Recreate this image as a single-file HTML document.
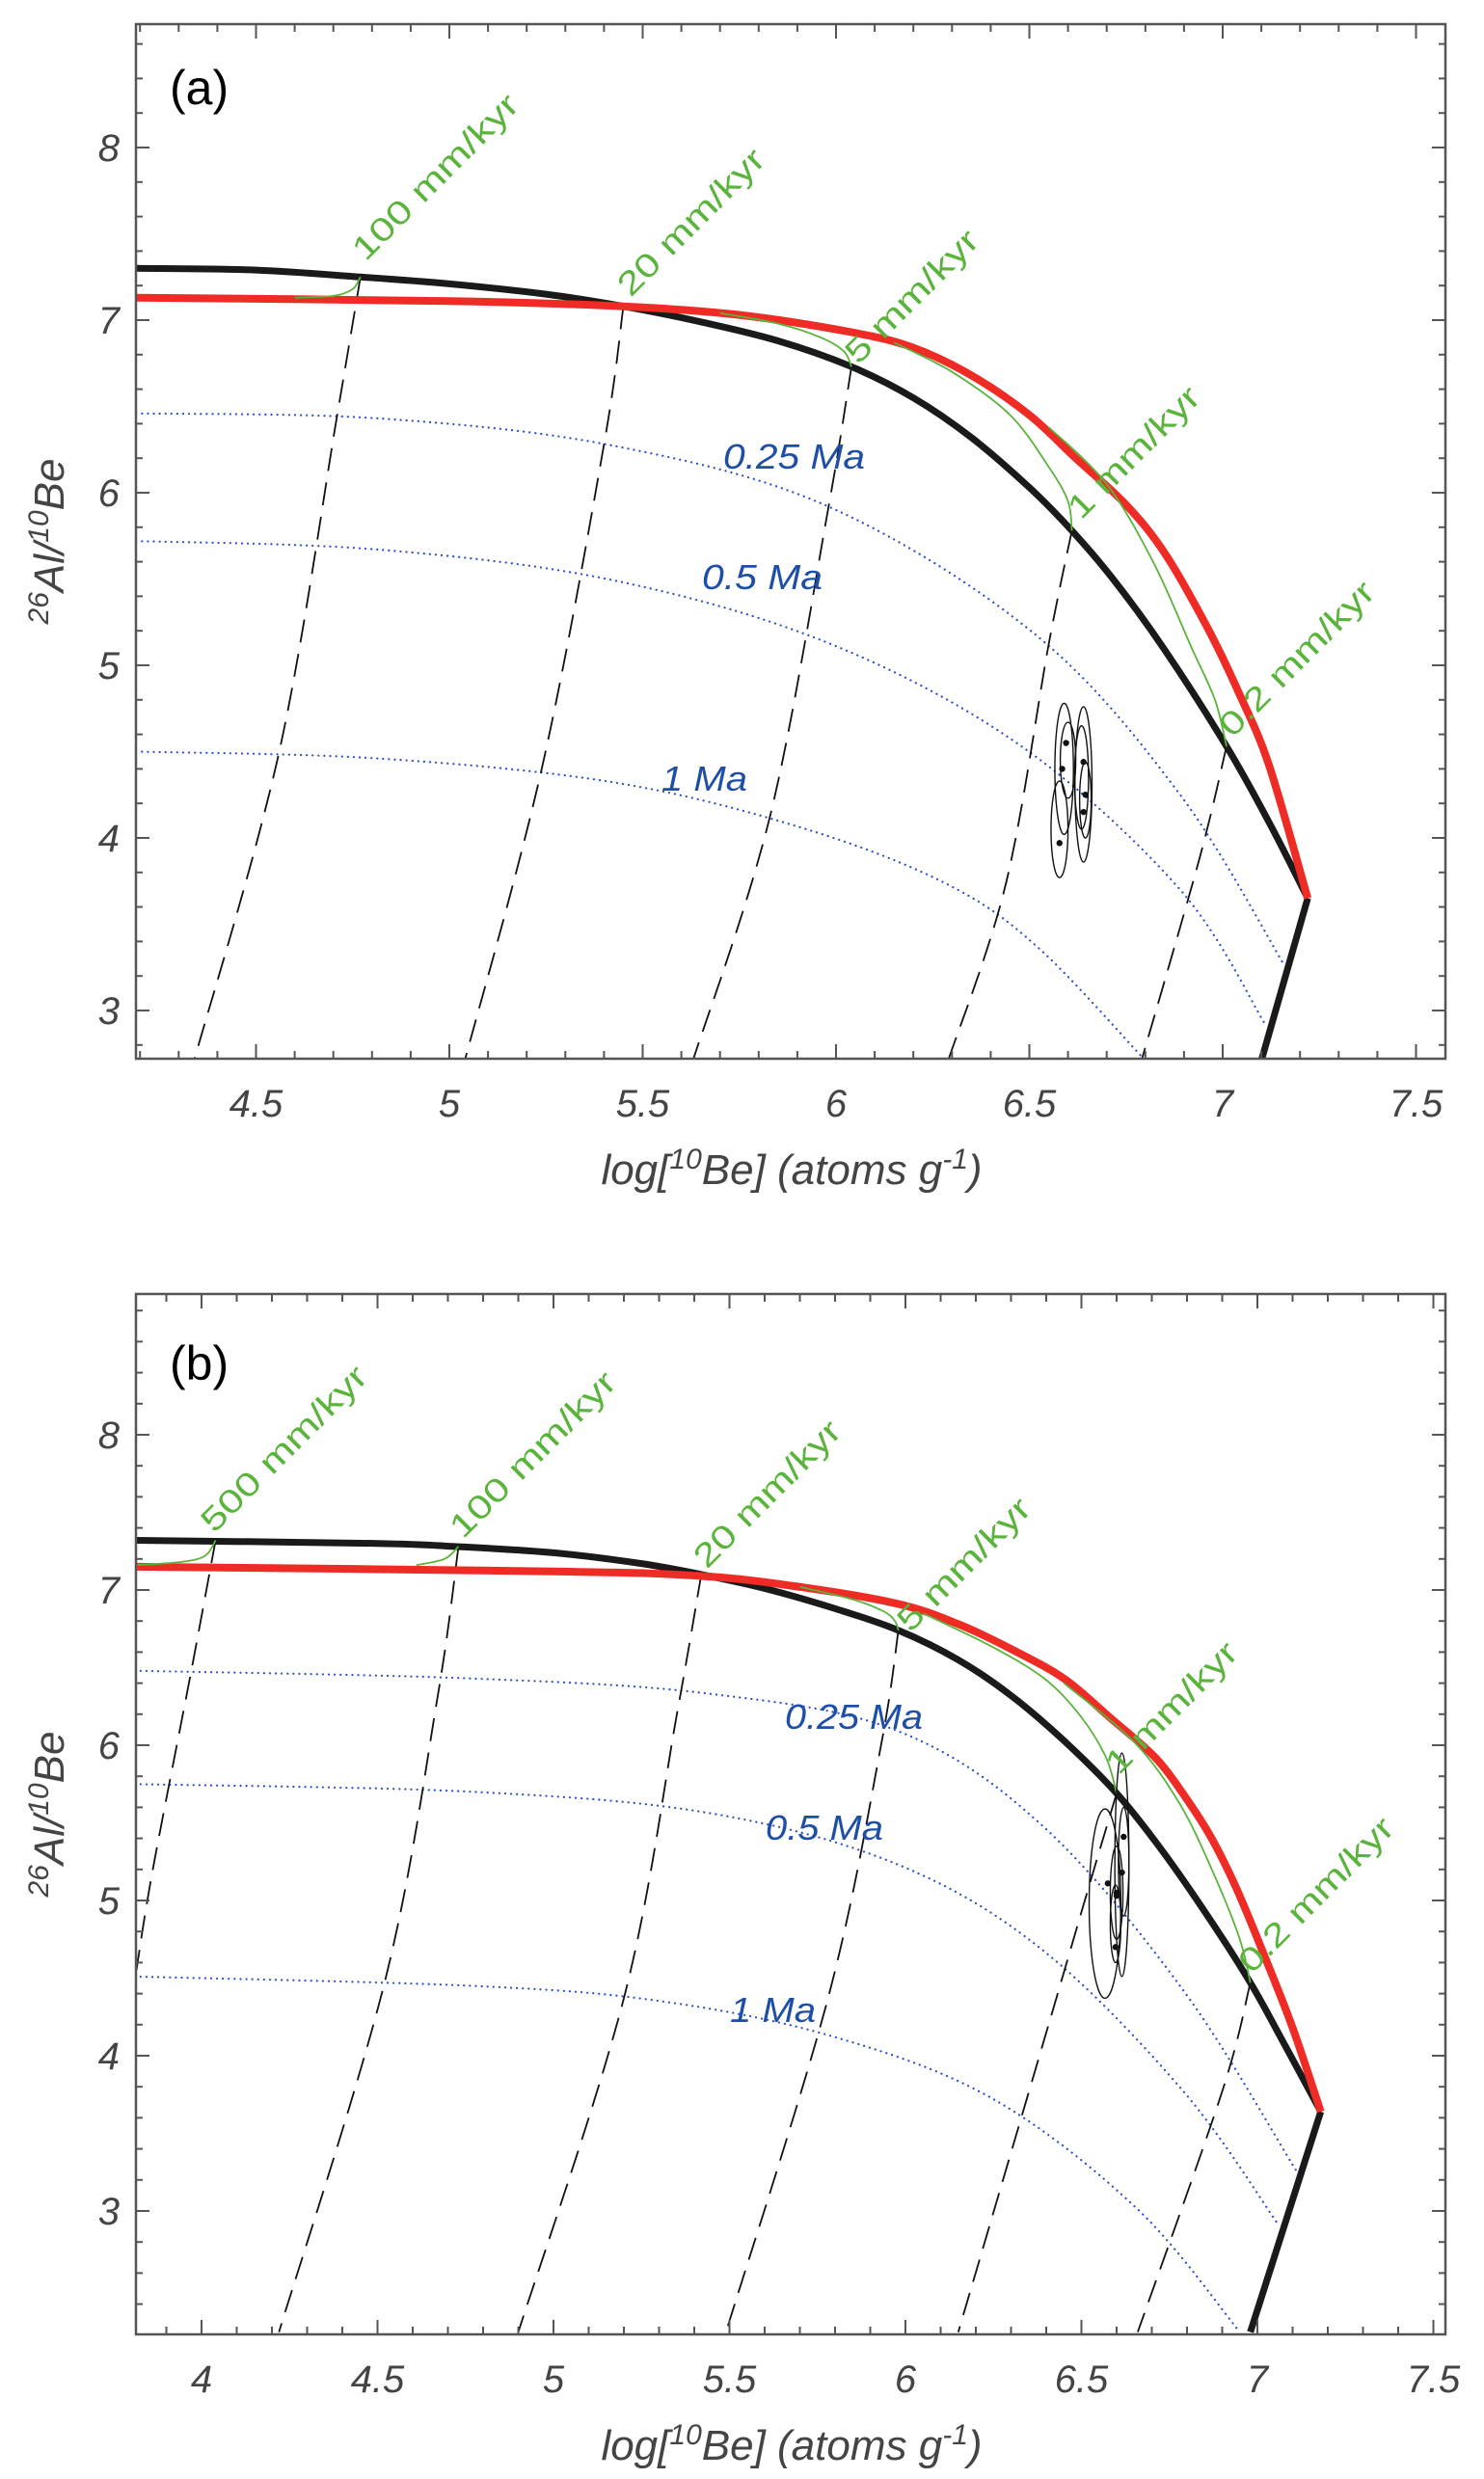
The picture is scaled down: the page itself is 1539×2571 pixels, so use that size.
<!DOCTYPE html>
<html><head><meta charset="utf-8"><style>
html,body{margin:0;padding:0;background:#fff}
svg{display:block}
.tk{font-family:"Liberation Sans",sans-serif;font-style:italic;font-size:40px;fill:#444}
.gl{font-family:"Liberation Sans",sans-serif;font-size:34px;fill:#5ab43c}
.bl{font-family:"Liberation Sans",sans-serif;font-style:italic;font-size:36px;fill:#1e4fa8}
.ax{font-family:"Liberation Sans",sans-serif;font-style:italic;font-size:44px;fill:#444}
.pl{font-family:"Liberation Sans",sans-serif;font-size:50px;fill:#000}
</style></head><body>
<svg id="chart" width="1539" height="2571" viewBox="0 0 1539 2571" xmlns="http://www.w3.org/2000/svg"></svg>
<script>
// ---------- Panel (a) data ----------
const aXTicks = [4.5, 5, 5.5, 6, 6.5, 7, 7.5];
const aYTicks = [3, 4, 5, 6, 7, 8];
const aBlack = [[4.19,7.30],[4.5,7.29],[4.77,7.25],[5.0,7.21],[5.25,7.15],[5.45,7.08],[5.65,6.99],[5.85,6.88],[6.04,6.73],[6.2,6.55],[6.35,6.32],[6.5,6.03],[6.61,5.78],[6.72,5.49],[6.85,5.09],[7.01,4.53],[7.12,4.09],[7.22,3.65]];
const aBlackLow = [[7.22,3.65],[7.10,2.71]];
const aRed = [[4.19,7.13],[5.0,7.11],[5.45,7.08],[5.75,7.03],[6.04,6.93],[6.2,6.84],[6.35,6.68],[6.5,6.45],[6.62,6.20],[6.75,5.93],[6.85,5.65],[6.96,5.22],[7.04,4.85],[7.12,4.42],[7.22,3.65]];
const aIso025 = [[4.19,6.46],[4.82,6.43],[5.43,6.27],[5.99,5.91],[6.52,5.17],[6.89,4.25],[7.16,3.26]];
const aIso05 = [[4.19,5.72],[4.82,5.67],[5.43,5.49],[5.99,5.12],[6.48,4.53],[6.89,3.70],[7.11,2.92]];
const aIso1 = [[4.19,4.50],[4.82,4.46],[5.43,4.32],[5.91,4.06],[6.28,3.74],[6.52,3.37],[6.80,2.71]];
const aDash100 = [[4.77,7.25],[4.71,6.45],[4.56,4.50],[4.34,2.71]];
const aDash20 = [[5.45,7.08],[5.40,6.28],[5.24,4.41],[5.04,2.71]];
const aDash5 = [[6.04,6.73],[5.98,5.91],[5.83,4.13],[5.63,2.71]];
const aDash1 = [[6.61,5.78],[6.55,5.12],[6.44,3.74],[6.29,2.71]];
const aDash02 = [[7.01,4.53],[6.94,3.88],[6.79,2.71]];
const aGreen100 = [[4.60,7.13],[4.70,7.14],[4.75,7.18],[4.77,7.25]];
const aGreen5 = [[5.70,7.04],[5.85,6.98],[5.96,6.90],[6.02,6.82],[6.04,6.73]];
const aGreen1 = [[6.15,6.87],[6.30,6.70],[6.45,6.45],[6.55,6.15],[6.60,5.95],[6.61,5.78]];
const aGreen02 = [[6.55,6.38],[6.70,6.05],[6.82,5.60],[6.92,5.10],[6.98,4.80],[7.01,4.53]];
const aEllipses = [[6.578,4.05,0.022,0.28],[6.59,4.40,0.024,0.38],[6.60,4.45,0.02,0.22],[6.64,4.31,0.022,0.45],[6.645,4.22,0.015,0.22],[6.635,4.35,0.018,0.30]];
const aDots = [[6.578,3.97],[6.585,4.40],[6.595,4.55],[6.64,4.44],[6.64,4.15],[6.645,4.25]];

// ---------- Panel (b) data ----------
const bXTicks = [4, 4.5, 5, 5.5, 6, 6.5, 7, 7.5];
const bYTicks = [3, 4, 5, 6, 7, 8];
const bBlack = [[3.81,7.32],[4.5,7.30],[4.72,7.28],[5.0,7.24],[5.25,7.17],[5.42,7.10],[5.6,7.01],[5.8,6.88],[5.98,6.74],[6.15,6.55],[6.3,6.32],[6.45,6.03],[6.60,5.69],[6.72,5.35],[6.85,4.93],[6.98,4.47],[7.08,4.06],[7.18,3.64]];
const bBlackLow = [[7.18,3.64],[6.98,2.22]];
const bRed = [[3.81,7.15],[5.0,7.12],[5.42,7.09],[5.7,7.02],[5.98,6.91],[6.15,6.78],[6.3,6.62],[6.45,6.43],[6.58,6.18],[6.71,5.92],[6.80,5.65],[6.87,5.40],[6.94,5.08],[7.01,4.70],[7.10,4.18],[7.18,3.64]];
const bIso025 = [[3.81,6.48],[4.77,6.43],[5.45,6.33],[5.98,6.09],[6.39,5.48],[6.79,4.42],[7.11,3.26]];
const bIso05 = [[3.81,5.75],[4.77,5.70],[5.45,5.56],[5.98,5.23],[6.39,4.68],[6.79,3.77],[7.06,2.91]];
const bIso1 = [[3.81,4.51],[4.77,4.45],[5.31,4.35],[5.80,4.12],[6.25,3.72],[6.66,3.01],[6.95,2.22]];
const bDash500 = [[4.04,7.32],[3.97,6.47],[3.86,5.18],[3.815,4.55]];
const bDash100 = [[4.73,7.28],[4.67,6.30],[4.52,4.47],[4.22,2.22]];
const bDash20 = [[5.42,7.10],[5.35,6.19],[5.20,4.37],[4.90,2.22]];
const bDash5 = [[5.98,6.74],[5.93,5.99],[5.78,4.37],[5.49,2.22]];
const bDash1 = [[6.60,5.69],[6.52,5.08],[6.39,4.07],[6.15,2.22]];
const bDash02 = [[6.98,4.47],[6.90,3.77],[6.66,2.22]];
const bGreen500 = [[3.81,7.16],[3.94,7.18],[4.01,7.22],[4.04,7.32]];
const bGreen100 = [[4.61,7.16],[4.69,7.20],[4.73,7.28]];
const bGreen5 = [[5.70,7.02],[5.85,6.94],[5.94,6.86],[5.97,6.80],[5.98,6.74]];
const bGreen1 = [[6.05,6.85],[6.25,6.63],[6.40,6.42],[6.50,6.18],[6.57,5.92],[6.60,5.69]];
const bGreen02 = [[6.45,6.40],[6.65,6.02],[6.78,5.62],[6.88,5.15],[6.95,4.75],[6.98,4.47]];
const bEllipses = [[6.567,4.98,0.045,0.61],[6.615,5.23,0.02,0.72],[6.60,5.05,0.018,0.30],[6.62,5.25,0.015,0.35],[6.597,4.85,0.015,0.25]];
const bDots = [[6.575,5.11],[6.60,5.05],[6.60,5.03],[6.615,5.18],[6.62,5.41],[6.597,4.70]];

const NS = "http://www.w3.org/2000/svg";
const svg = document.getElementById('chart');
function mk(tag, attrs, parent){const e=document.createElementNS(NS,tag);for(const k in attrs)e.setAttribute(k,attrs[k]);(parent||svg).appendChild(e);return e;}

function smooth(pts){
  if(pts.length<3) return 'M'+pts.map(p=>p[0].toFixed(1)+','+p[1].toFixed(1)).join(' L');
  let d='M'+pts[0][0].toFixed(1)+','+pts[0][1].toFixed(1);
  for(let i=0;i<pts.length-1;i++){
    const p0=pts[i-1]||pts[i],p1=pts[i],p2=pts[i+1],p3=pts[i+2]||p2;
    const c1=[p1[0]+(p2[0]-p0[0])/6,p1[1]+(p2[1]-p0[1])/6];
    const c2=[p2[0]-(p3[0]-p1[0])/6,p2[1]-(p3[1]-p1[1])/6];
    d+=` C${c1[0].toFixed(1)},${c1[1].toFixed(1)} ${c2[0].toFixed(1)},${c2[1].toFixed(1)} ${p2[0].toFixed(1)},${p2[1].toFixed(1)}`;
  }
  return d;
}

function panel(cfg){
  const g=mk('g',{});
  
  
  const sx=v=>cfg.x0px+(v-cfg.x0v)*cfg.xs;
  const sy=v=>cfg.y0px-(v-cfg.y0v)*cfg.ys;
  const L=cfg.L,R=cfg.R,T=cfg.T,B=cfg.B;
  const clipId='clip-'+cfg.id;
  const cp=mk('clipPath',{id:clipId},g);mk('rect',{x:L,y:T,width:R-L,height:B-T},cp);
  const plot=mk('g',{'clip-path':`url(#${clipId})`},g);
  const P=a=>a.map(p=>[sx(p[0]),sy(p[1])]);
  cfg.iso.forEach((arr,i)=>{
    const e=mk('path',{d:smooth(P(arr)),fill:'none',stroke:'#2b4fc9','stroke-width':2.2,'stroke-dasharray':'0.1 6','stroke-linecap':'round'},plot);
    
    
  });
  cfg.dash.forEach((arr,i)=>{
    const e=mk('path',{d:smooth(P(arr)),fill:'none',stroke:'#111','stroke-width':1.8,'stroke-dasharray':'24 12'},plot);
    
    
  });
  let e=mk('path',{d:smooth(P(cfg.black)),fill:'none',stroke:'#1a1a1a','stroke-width':7,'stroke-linejoin':'round'},plot);
  
  
  e=mk('path',{d:smooth(P(cfg.blackLow)),fill:'none',stroke:'#1a1a1a','stroke-width':7},plot);
  
  
  e=mk('path',{d:smooth(P(cfg.red)),fill:'none',stroke:'#ee2b24','stroke-width':8,'stroke-linejoin':'round'},plot);
  
  
  cfg.green.forEach((arr,i)=>{
    const q=mk('path',{d:smooth(P(arr)),fill:'none',stroke:'#5ab43c','stroke-width':1.8},plot);
    
    
  });
  cfg.ell.forEach((el,i)=>{
    const q=mk('ellipse',{cx:sx(el[0]),cy:sy(el[1]),rx:el[2]*cfg.xs,ry:el[3]*cfg.ys,fill:'none',stroke:'#111','stroke-width':1.4},plot);
    
    
  });
  cfg.dots.forEach(d=>{
    const q=mk('circle',{cx:sx(d[0]),cy:sy(d[1]),r:3.2,fill:'#111'},plot);
    
    
  });
  e=mk('rect',{x:L,y:T,width:R-L,height:B-T,fill:'none',stroke:'#555','stroke-width':2.5},g);
  
  
  const tk=mk('g',{stroke:'#555','stroke-width':2},g);
  for(let v=Math.ceil(cfg.xmin*10);v<=cfg.xmax*10;v++){
    const x=sx(v/10),maj=(v%5===0),len=maj?15:8;
    mk('line',{x1:x,y1:B,x2:x,y2:B-len},tk);mk('line',{x1:x,y1:T,x2:x,y2:T+len},tk);
  }
  for(let v=Math.ceil(cfg.ymin*5);v<=cfg.ymax*5;v++){
    const y=sy(v/5),maj=(v%5===0),len=maj?14:7;
    mk('line',{x1:L,y1:y,x2:L+len,y2:y},tk);mk('line',{x1:R,y1:y,x2:R-len,y2:y},tk);
  }
  cfg.xt.forEach(v=>{
    const t=mk('text',{x:sx(v),y:cfg.xtY,'text-anchor':'middle',class:'tk'},g);t.textContent=String(v);
    
    
  });
  cfg.yt.forEach(v=>{
    const t=mk('text',{x:124,y:sy(v)+14,'text-anchor':'end',class:'tk'},g);t.textContent=String(v);
    
    
  });
  cfg.gLabels.forEach(l=>{
    const t=mk('text',{x:l[1],y:l[2],class:'gl',transform:`rotate(-45 ${l[1]} ${l[2]})`,textLength:l[3],lengthAdjust:'spacingAndGlyphs'},g);t.textContent=l[0];
    
    
  });
  cfg.bLabels.forEach(l=>{
    const t=mk('text',{x:l[1],y:l[2],class:'bl',textLength:l[3],lengthAdjust:'spacingAndGlyphs'},g);t.textContent=l[0];
    
    
  });
  let t=mk('text',{x:176,y:cfg.plY,class:'pl'},g);t.textContent=cfg.pl;
  
  
  const mid=(T+B)/2;
  t=mk('text',{x:66,y:mid,class:'ax','text-anchor':'middle',transform:`rotate(-90 66 ${mid})`},g);
  t.innerHTML='<tspan baseline-shift="super" font-size="30">26</tspan>Al/<tspan baseline-shift="super" font-size="30">10</tspan>Be';
  
  
  t=mk('text',{x:821,y:cfg.xlY,class:'ax','text-anchor':'middle'},g);
  t.innerHTML='log[<tspan baseline-shift="super" font-size="30">10</tspan>Be] (atoms g<tspan baseline-shift="super" font-size="30">-1</tspan>)';
  
  
}

panel({id:'a',name:'panel-a',L:141,R:1499,T:25,B:1098,x0v:5,x0px:466,xs:401,y0v:7,y0px:332,ys:179,
  xmin:4.19,xmax:7.576,ymin:2.72,ymax:8.715,xt:aXTicks,yt:aYTicks,xtY:1158,xlY:1228,plY:108,pl:'(a)',
  black:aBlack,blackLow:aBlackLow,red:aRed,iso:[aIso025,aIso05,aIso1],isoNames:['0.25ma','0.5ma','1ma'],
  dash:[aDash100,aDash20,aDash5,aDash1,aDash02],dashNames:['100','20','5','1','0.2'],
  green:[aGreen100,aGreen5,aGreen1,aGreen02],ell:aEllipses,dots:aDots,
  gLabels:[['100 mm/kyr',379,272,228],['20 mm/kyr',654,309,200],['5 mm/kyr',890,379,180],['1 mm/kyr',1121,540,178],['0.2 mm/kyr',1278,766,212]],
  bLabels:[['0.25 Ma',750,486,147],['0.5 Ma',728,611,125],['1 Ma',686,820,89]]});

panel({id:'b',name:'panel-b',L:141,R:1499,T:1342,B:2421,x0v:4,x0px:209,xs:365,y0v:7,y0px:1649,ys:161,
  xmin:3.814,xmax:7.536,ymin:2.205,ymax:8.907,xt:bXTicks,yt:bYTicks,xtY:2481,xlY:2551,plY:1431,pl:'(b)',
  black:bBlack,blackLow:bBlackLow,red:bRed,iso:[bIso025,bIso05,bIso1],isoNames:['0.25ma','0.5ma','1ma'],
  dash:[bDash500,bDash100,bDash20,bDash5,bDash1,bDash02],dashNames:['500','100','20','5','1','0.2'],
  green:[bGreen500,bGreen100,bGreen5,bGreen1,bGreen02],ell:bEllipses,dots:bDots,
  gLabels:[['500 mm/kyr',222,1591,228],['100 mm/kyr',480,1597,228],['20 mm/kyr',733,1628,200],['5 mm/kyr',944,1694,180],['1 mm/kyr',1160,1842,178],['0.2 mm/kyr',1298,2048,212]],
  bLabels:[['0.25 Ma',814,1793,143],['0.5 Ma',794,1908,122],['1 Ma',757,2097,89]]});
</script>
</body></html>
